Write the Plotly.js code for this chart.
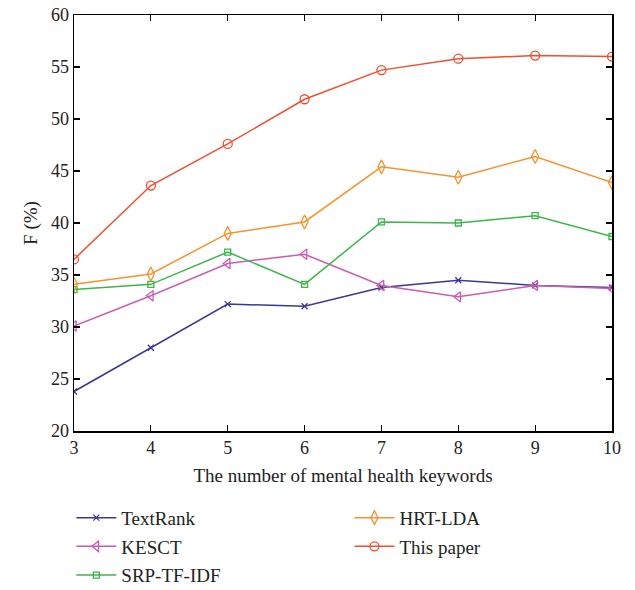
<!DOCTYPE html>
<html>
<head>
<meta charset="utf-8">
<script src="https://cdn.plot.ly/plotly-3.0.1.min.js"></script>
<style>html,body{margin:0;padding:0;background:#fff;}</style>
</head>
<body>
<div id="chart" style="width:635px;height:590px;"></div>
<script>
const keywords = [3, 4, 5, 6, 7, 8, 9, 10];
const textRank = [23.8, 28.0, 32.2, 32.0, 33.8, 34.5, 34.0, 33.8];
const kesct = [30.1, 33.0, 36.1, 37.0, 34.0, 32.9, 34.0, 33.7];
const srpTfIdf = [33.6, 34.1, 37.2, 34.1, 40.1, 40.0, 40.7, 38.7];
const hrtLda = [34.1, 35.1, 39.0, 40.1, 45.4, 44.4, 46.4, 43.9];
const thisPaper = [36.5, 43.6, 47.6, 51.9, 54.7, 55.8, 56.1, 56.0];
const names = ['TextRank', 'KESCT', 'SRP-TF-IDF', 'HRT-LDA', 'This paper'];

const serif = 'Liberation Serif, Times New Roman, serif';

function tr(y, name, color, symbol, size, legend, group) {
  return {
    x: keywords, y: y, name: name, type: 'scatter', mode: 'lines+markers',
    line: {color: color, width: 1.5},
    marker: {symbol: symbol, size: size, color: color, line: {color: color, width: 1.3}},
    legend: legend, legendgroup: group
  };
}

const data = [
  tr(textRank, names[0], '#3a3896', 'x-thin-open', 6, 'legend', 'a'),
  tr(kesct, names[1], '#cc5cb3', 'triangle-left-open', 9, 'legend', 'b'),
  tr(srpTfIdf, names[2], '#3db54a', 'square-open', 6, 'legend', 'c'),
  tr(hrtLda, names[3], '#f7922e', 'diamond-tall-open', 10, 'legend2', 'd'),
  tr(thisPaper, names[4], '#f04e30', 'circle-open', 9, 'legend2', 'e')
];

const axisCommon = {
  showline: true, linecolor: '#000', linewidth: 1.5, mirror: 'ticks',
  ticks: 'inside', ticklen: 6, tickwidth: 1.2, tickcolor: '#000',
  showgrid: false, zeroline: false,
  tickfont: {family: serif, size: 18, color: '#222'}
};

const legendCommon = {
  xanchor: 'left', yanchor: 'top',
  orientation: 'v', traceorder: 'grouped', tracegroupgap: 1,
  font: {family: serif, size: 19, color: '#222'}, bgcolor: 'rgba(0,0,0,0)', itemwidth: 40
};

const layout = {
  width: 635, height: 590,
  margin: {l: 74, r: 23, t: 15, b: 159, autoexpand: false},
  paper_bgcolor: '#fff', plot_bgcolor: '#fff',
  font: {family: serif, color: '#222'},
  xaxis: Object.assign({}, axisCommon, {
    range: [3, 10], tickvals: keywords, ticktext: keywords.map(String),
    title: {text: 'The number of mental health keywords', font: {family: serif, size: 19, color: '#222'}, standoff: 11}
  }),
  yaxis: Object.assign({}, axisCommon, {
    range: [20, 60], dtick: 5,
    title: {text: 'F (%)', font: {family: serif, size: 19, color: '#222'}, standoff: 8}
  }),
  legend: Object.assign({}, legendCommon, {x: -0.005, y: -0.163}),
  legend2: Object.assign({}, legendCommon, {x: 0.512, y: -0.163}),
  showlegend: true
};

Plotly.newPlot('chart', data, layout, {displayModeBar: false, staticPlot: true});
</script>
</body>
</html>
